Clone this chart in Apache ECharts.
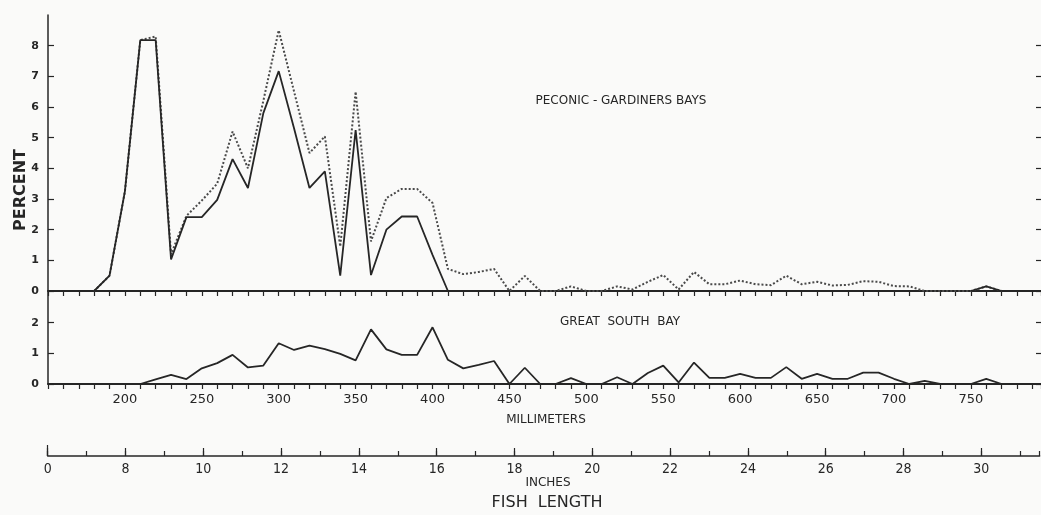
<!DOCTYPE html>
<html><head><meta charset="utf-8">
<script src="https://cdn.jsdelivr.net/npm/echarts@6/dist/echarts.min.js"></script>
<style>html,body{margin:0;padding:0;background:#fafaf9}#c{width:1041px;height:515px}</style>
</head><body><div id="c"></div>
<script>
// Fish length classes (mm) for the Peconic-Gardiners Bays panel
const lengthMM = [180,190,200,210,220,230,240,250,260,270,280,290,300,310,320,330,340,350,360,370,380,390,400,410,
  420,430,440,450,460,470,480,490,500,510,520,530,540,550,560,570,580,590,600,610,620,630,640,650,660,670,680,690,700,710,720,730,740,750,760,770];
// Peconic-Gardiners Bays, solid line (percent)
const peconicSolid = [0,0.5,3.25,8.18,8.18,1.03,2.41,2.41,2.97,4.3,3.36,5.8,7.17,5.3,3.36,3.9,0.5,5.25,0.52,2.0,2.43,2.43,1.18,0,
  null,null,null,null,null,null,null,null,null,null,null,null,null,null,null,null,null,null,null,null,null,null,null,null,null,null,null,null,null,null,null,null,null,
  0,0.15,0];
// Peconic-Gardiners Bays, dotted line (percent)
const peconicDotted = [0,0.5,3.25,8.18,8.3,1.2,2.45,2.95,3.5,5.2,4.0,6.2,8.5,6.5,4.5,5.04,1.45,6.5,1.62,3.03,3.33,3.33,2.87,0.72,
  0.55,0.62,0.72,0,0.49,0,0,0.15,0,0,0.15,0.05,0.3,0.52,0.05,0.62,0.22,0.22,0.34,0.22,0.19,0.5,0.22,0.3,0.18,0.2,0.32,0.3,0.16,0.15,0,0,0,
  0,0.15,0];
// Great South Bay length classes (mm) and percent
const gsbMM = [210,220,230,240,250,260,270,280,290,300,310,320,330,340,350,360,370,380,390,400,410,420,430,440,450,460,470,480,490,500,
  510,520,530,540,550,560,570,580,590,600,610,620,630,640,650,660,670,680,690,700,710,720,730,740,750,760,770];
const gsbValues = [0,0.15,0.3,0.16,0.51,0.68,0.95,0.54,0.6,1.33,1.11,1.25,1.14,0.98,0.77,1.78,1.13,0.95,0.95,1.85,0.79,0.51,0.62,0.75,0,0.53,0,0,0.19,0,
  0,0.22,0,0.36,0.6,0.05,0.7,0.2,0.2,0.33,0.2,0.2,0.55,0.17,0.33,0.17,0.17,0.37,0.37,0.17,0,0.1,0,0,0,0.17,0];
// Tick labels
const upperYTicks = [0,1,2,3,4,5,6,7,8];
const lowerYTicks = [0,1,2];
const mmLabels = [200,250,300,350,400,450,500,550,600,650,700,750];
const inchTicksMajor = [6,8,10,12,14,16,18,20,22,24,26,28,30];
const inchTickText = ['0','8','10','12','14','16','18','20','22','24','26','28','30'];

const ink = '#262626';
const FF = "'DejaVu Sans', 'Liberation Sans', sans-serif";
const FFC = "'Liberation Sans Narrow', 'DejaVu Sans Condensed', 'DejaVu Sans', sans-serif";
const MM_MIN = 150, MM_MAX = 795.6;

const zip = (xs, ys) => xs.map((x, i) => [x, ys[i]]);

const chart = echarts.init(document.getElementById('c'));
const hide = {show:false};
const option = {
  backgroundColor: '#fafaf9',
  animation: false,
  grid: [
    {left: 48, right: 0, top: 15, height: 276},
    {left: 48, right: 0, top: 292, height: 92},
    {left: 47.7, right: 1.35, top: 455, height: 1}
  ],
  xAxis: [
    {gridIndex:0, type:'value', min:MM_MIN, max:MM_MAX, position:'bottom',
      axisLine:{lineStyle:{color:ink, width:2}}, axisTick:hide, axisLabel:hide, splitLine:hide},
    {gridIndex:0, type:'value', min:MM_MIN, max:MM_MAX, interval:10, position:'top',
      axisLine:{lineStyle:{color:ink, width:1.5}}, axisTick:{inside:true, length:5, lineStyle:{color:ink, width:1.2}},
      axisLabel:hide, splitLine:hide},
    {gridIndex:1, type:'value', min:MM_MIN, max:MM_MAX, interval:10, position:'bottom',
      axisLine:{lineStyle:{color:ink, width:2}}, axisTick:{length:5, lineStyle:{color:ink, width:1.2}},
      axisLabel:{customValues: mmLabels, color:ink, fontSize:13, margin:9, fontFamily:FF},
      splitLine:hide},
    {gridIndex:2, type:'value', min:6, max:31.5, interval:1, position:'bottom',
      axisLine:{lineStyle:{color:ink, width:1.5}}, axisTick:{inside:true, length:5, lineStyle:{color:ink, width:1.2}},
      axisLabel:hide, splitLine:hide},
    {gridIndex:2, type:'value', min:6, max:31.5, position:'bottom',
      axisLine:hide,
      axisTick:{customValues: inchTicksMajor, inside:true, length:8, lineStyle:{color:ink, width:1.2}},
      axisLabel:{customValues: inchTicksMajor, formatter: v => inchTickText[inchTicksMajor.indexOf(v)] || '',
        color:ink, fontSize:14, margin:6, fontFamily:FFC},
      splitLine:hide},
    {gridIndex:2, type:'value', min:6, max:31.5, position:'bottom',
      axisLine:hide, axisTick:{customValues:[6], inside:true, length:11, lineStyle:{color:ink, width:1.2}},
      axisLabel:hide, splitLine:hide}
  ],
  yAxis: [
    {gridIndex:0, type:'value', min:0, max:9, interval:1, position:'left',
      axisLine:{show:true, lineStyle:{color:ink, width:1.5}},
      axisTick:{customValues: upperYTicks, inside:true, length:6, lineStyle:{color:ink, width:1.2}},
      axisLabel:{customValues: upperYTicks, color:ink, fontSize:11, margin:9, fontFamily:FF, fontWeight:'bold'},
      splitLine:hide},
    {gridIndex:0, type:'value', min:0, max:9, interval:1, position:'right',
      axisLine:hide,
      axisTick:{customValues: upperYTicks, inside:true, length:5, lineStyle:{color:ink, width:1.2}},
      axisLabel:hide, splitLine:hide},
    {gridIndex:1, type:'value', min:0, max:3, interval:1, position:'left',
      axisLine:{show:true, lineStyle:{color:ink, width:1.5}},
      axisTick:{customValues: lowerYTicks, inside:true, length:6, lineStyle:{color:ink, width:1.2}},
      axisLabel:{customValues: lowerYTicks, color:ink, fontSize:11, margin:9, fontFamily:FF, fontWeight:'bold'},
      splitLine:hide},
    {gridIndex:1, type:'value', min:0, max:3, interval:1, position:'right',
      axisLine:hide,
      axisTick:{customValues: lowerYTicks, inside:true, length:5, lineStyle:{color:ink, width:1.2}},
      axisLabel:hide, splitLine:hide},
    {gridIndex:2, type:'value', show:false}
  ],
  graphic: [
    {type:'text', x:621, y:101, style:{text:'PECONIC - GARDINERS BAYS', fill:ink, font:'12px '+FF, textAlign:'center', textVerticalAlign:'middle'}},
    {type:'text', x:620, y:322, style:{text:'GREAT  SOUTH  BAY', fill:ink, font:'12px '+FF, textAlign:'center', textVerticalAlign:'middle'}},
    {type:'text', x:546, y:420, style:{text:'MILLIMETERS', fill:ink, font:'12px '+FF, textAlign:'center', textVerticalAlign:'middle'}},
    {type:'text', x:548, y:483, style:{text:'INCHES', fill:ink, font:'12px '+FF, textAlign:'center', textVerticalAlign:'middle'}},
    {type:'text', x:547, y:503, style:{text:'FISH  LENGTH', fill:ink, font:'16px '+FF, textAlign:'center', textVerticalAlign:'middle'}},
    {type:'text', x:21, y:190, rotation:Math.PI/2, style:{text:'PERCENT', fill:ink, font:'bold 16px '+FF, textAlign:'center', textVerticalAlign:'middle'}}
  ],
  series: [
    {name:'Peconic dotted', type:'line', xAxisIndex:0, yAxisIndex:0, data: zip(lengthMM, peconicDotted),
      symbol:'none', z:2, lineStyle:{color:'#4a4a4a', width:2, type:'dotted'}},
    {name:'Peconic solid', type:'line', xAxisIndex:0, yAxisIndex:0, data: zip(lengthMM, peconicSolid),
      symbol:'none', z:3, connectNulls:false, lineStyle:{color:ink, width:1.8}},
    {name:'Great South Bay', type:'line', xAxisIndex:2, yAxisIndex:2, data: zip(gsbMM, gsbValues),
      symbol:'none', z:3, lineStyle:{color:ink, width:1.8}}
  ]
};
chart.setOption(option);
</script>
</body></html>
